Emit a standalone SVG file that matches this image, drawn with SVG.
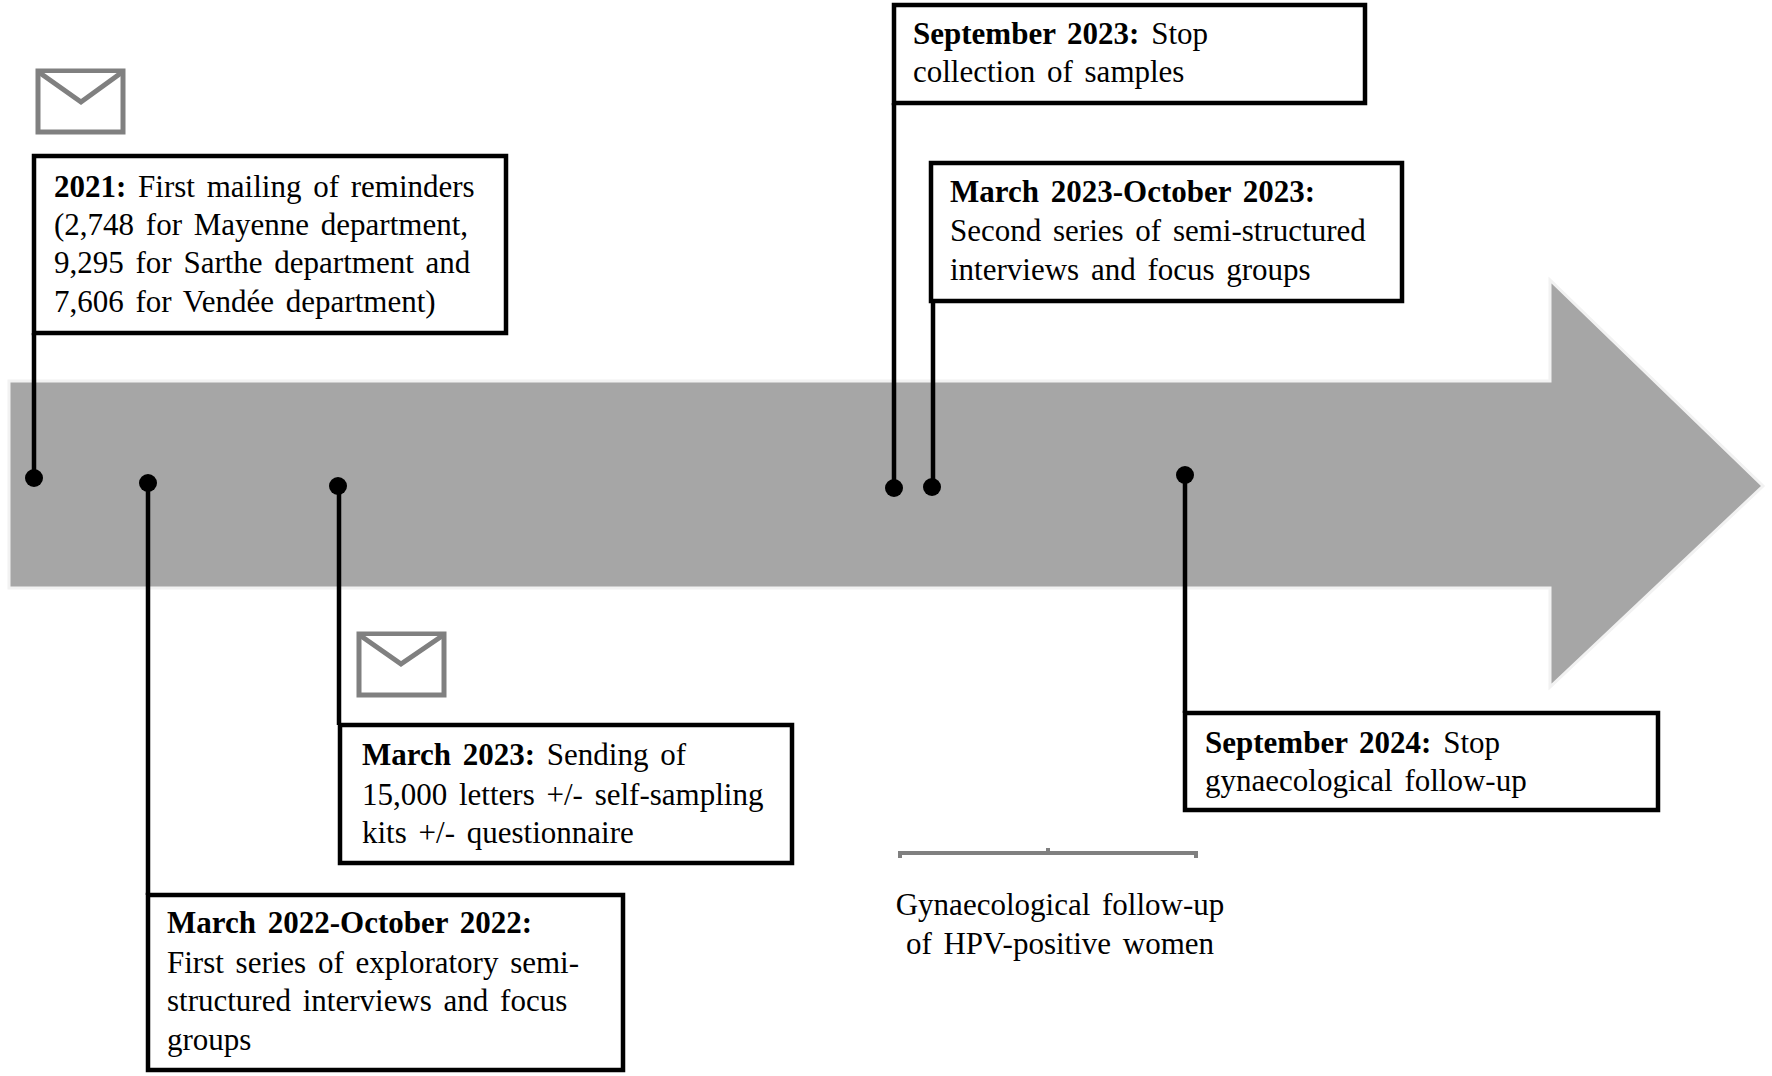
<svg xmlns="http://www.w3.org/2000/svg" width="1772" height="1076" viewBox="0 0 1772 1076">
<style>
text{font-family:"Liberation Serif","Times New Roman",serif;font-size:31px;word-spacing:4px;fill:#000}
.b{font-weight:bold}
.box{fill:#fff;stroke:#000;stroke-width:4.5}
.ln{stroke:#000;stroke-width:4.5;fill:none}
.env{fill:#fff;stroke:#808080;stroke-width:5}
</style>
<rect width="1772" height="1076" fill="#fff"/>
<polygon points="9,381 1550,381 1550,280 1763,486 1550,687 1550,588 9,588" fill="#a6a6a6" stroke="#f2f2f2" stroke-width="3"/>
<g id="connectors">
<path class="ln" d="M34,333 V478"/><circle cx="34" cy="478" r="9"/>
<path class="ln" d="M148,483 V895"/><circle cx="148" cy="483" r="9"/>
<path class="ln" d="M339,486 V725"/><circle cx="338" cy="486" r="9"/>
<path class="ln" d="M894,103 V488"/><circle cx="894" cy="488" r="9"/>
<path class="ln" d="M933,301 V487"/><circle cx="932" cy="487" r="9"/>
<path class="ln" d="M1185,475 V713"/><circle cx="1185" cy="475" r="9"/>
</g>
<g id="env1"><rect class="env" x="38" y="71" width="85" height="61"/><path class="env" d="M40,73 L81,102 L121,73"/></g>
<g id="env2"><rect class="env" x="359" y="634" width="85" height="61"/><path class="env" d="M361,636 L401,664 L442,636"/></g>
<g id="n2021"><rect class="box" x="34" y="156" width="472" height="177"/>
<text x="54" y="197"><tspan class="b">2021:</tspan> First mailing of reminders</text>
<text x="54" y="235">(2,748 for Mayenne department,</text>
<text x="54" y="273">9,295 for Sarthe department and</text>
<text x="54" y="312">7,606 for Vendée department)</text></g>
<g id="n2022"><rect class="box" x="148" y="895" width="475" height="175"/>
<text x="167" y="933" class="b">March 2022-October 2022:</text>
<text x="167" y="973">First series of exploratory semi-</text>
<text x="167" y="1011">structured interviews and focus</text>
<text x="167" y="1050">groups</text></g>
<g id="nmar2023"><rect class="box" x="340" y="725" width="452" height="138"/>
<text x="362" y="765"><tspan class="b">March 2023:</tspan> Sending of</text>
<text x="362" y="805">15,000 letters +/- self-sampling</text>
<text x="362" y="843">kits +/- questionnaire</text></g>
<g id="nsep2023"><rect class="box" x="894" y="5" width="471" height="98"/>
<text x="913" y="44"><tspan class="b">September 2023:</tspan> Stop</text>
<text x="913" y="82">collection of samples</text></g>
<g id="nmarOct2023"><rect class="box" x="931" y="163" width="471" height="138"/>
<text x="950" y="202" class="b">March 2023-October 2023:</text>
<text x="950" y="241">Second series of semi-structured</text>
<text x="950" y="280">interviews and focus groups</text></g>
<g id="nsep2024"><rect class="box" x="1185" y="713" width="473" height="97"/>
<text x="1205" y="753"><tspan class="b">September 2024:</tspan> Stop</text>
<text x="1205" y="791">gynaecological follow-up</text></g>
<g id="followup">
<path d="M900,858 V853 H1196 V858 M1048,853 V848" fill="none" stroke="#808080" stroke-width="4"/>
<text x="1060" y="915" text-anchor="middle">Gynaecological follow-up</text>
<text x="1060" y="954" text-anchor="middle">of HPV-positive women</text></g>
</svg>
